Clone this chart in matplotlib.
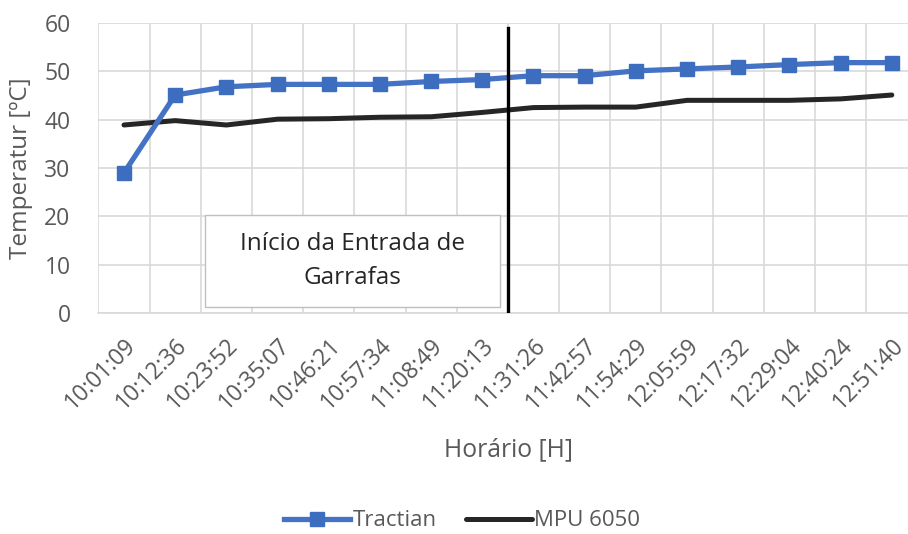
import matplotlib
matplotlib.use("Agg")
import matplotlib.pyplot as plt
from matplotlib.patches import Rectangle
import numpy as np

# time stamps (x categories)
horarios = ["10:01:09", "10:12:36", "10:23:52", "10:35:07", "10:46:21", "10:57:34",
            "11:08:49", "11:20:13", "11:31:26", "11:42:57", "11:54:29", "12:05:59",
            "12:17:32", "12:29:04", "12:40:24", "12:51:40"]
tractian = [29.0, 45.1, 46.8, 47.3, 47.3, 47.3, 47.9, 48.3, 49.1, 49.1,
            50.1, 50.5, 50.9, 51.4, 51.8, 51.8]
mpu6050 = [38.9, 39.8, 38.9, 40.1, 40.2, 40.5, 40.6, 41.5, 42.5, 42.6,
           42.6, 44.0, 44.0, 44.0, 44.3, 45.1]
inicio_entrada = 7.5   # boundary between 11:20:13 and 11:31:26

plt.rcParams["font.family"] = ["Open Sans", "DejaVu Sans"]
GRAY = "#595959"
GRID = "#D9D9D9"

fig = plt.figure(figsize=(9.08, 5.34), dpi=100)
# plot area runs slightly past the right edge of the picture (as in the source)
ax = fig.add_axes([98.4 / 908, 1 - 313 / 534, 819 / 908, 290 / 534])

x = np.arange(len(horarios))
ax.plot(x, tractian, color="#4472C4", lw=3.8, marker="s", markersize=9.5,
        markerfacecolor="#3D6DBF", markeredgecolor="#3D6DBF", label="Tractian", zorder=4)
ax.plot(x, mpu6050, color="#262626", lw=3.6, label="MPU 6050", zorder=3,
        solid_capstyle="round")

# marker line for start of bottle entry
ax.plot([inicio_entrada, inicio_entrada], [0, 59.0], color="black", lw=2.4, zorder=5)

# text box
bx, by, bw, bh = 1.58, 1.24, 5.76, 19.06
ax.add_patch(Rectangle((bx, by), bw, bh, facecolor="white",
                       edgecolor="#BFBFBF", lw=1.0, zorder=2))
ax.text(bx + bw / 2, by + bh / 2, "Início da Entrada de\nGarrafas",
        ha="center", va="center", fontsize=17.5, color="#262626",
        linespacing=1.55, zorder=2.5)

ax.set_xlim(-0.5, len(horarios) - 0.5)
ax.set_ylim(0, 60)
ax.set_yticks(range(0, 61, 10))
ax.set_xticks(x)
ax.set_xticklabels(horarios, rotation=45, ha="right", rotation_mode="anchor")
ax.set_xticks(np.arange(-0.5, len(horarios)), minor=True)

ax.grid(axis="y", color=GRID, lw=1.2)
ax.grid(axis="x", which="minor", color=GRID, lw=1.2)
ax.set_axisbelow(True)
for s in ["top", "right", "left"]:
    ax.spines[s].set_visible(False)
ax.spines["bottom"].set_color(GRID)
ax.spines["bottom"].set_linewidth(1.2)
ax.tick_params(which="both", length=0)
ax.tick_params(axis="y", labelsize=16.5, labelcolor=GRAY, pad=20)
ax.tick_params(axis="x", labelsize=16.5, labelcolor=GRAY, pad=15)

ax.set_ylabel("Temperatur [ºC]", fontsize=17.5, color=GRAY, labelpad=8)
fig.text(508 / 908, 1 - 450 / 534, "Horário [H]", ha="center", va="center",
         fontsize=17.8, color=GRAY)

fig.legend(loc="center", bbox_to_anchor=(462 / 908, 1 - 521 / 534), ncol=2,
           frameon=False, fontsize=16, labelcolor=GRAY, handlelength=3.0,
           handletextpad=0.1, columnspacing=1.3)

fig.savefig("out.png", dpi=100, facecolor="white")
